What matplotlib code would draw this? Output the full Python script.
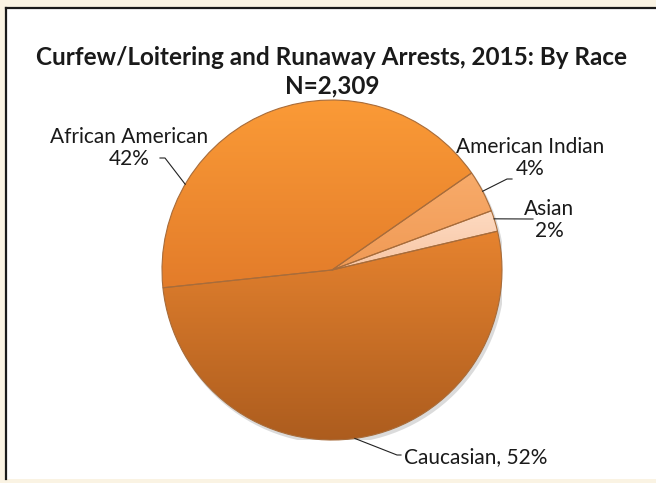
import numpy as np
import matplotlib
matplotlib.use("Agg")
import matplotlib.pyplot as plt
from matplotlib.colors import LinearSegmentedColormap
from matplotlib.patches import Rectangle, Circle
from matplotlib.lines import Line2D

# arrests by race
races = ['African American', 'American Indian', 'Asian', 'Caucasian']
shares = [42, 4, 2, 52]
label_texts = ['African American\n42%', 'American Indian\n4%', 'Asian\n2%', 'Caucasian, 52%']

# top / bottom colour of each slice's gradient
grad_top = ['#fb9b37', '#f8ab6a', '#fddac1', '#e6832f']
grad_bottom = ['#e37c2a', '#f09a55', '#f8c6a4', '#ac5c1e']

W, H = 656, 483
plt.rcParams['font.family'] = ['Lato', 'DejaVu Sans']
fig = plt.figure(figsize=(W / 100, H / 100), dpi=100, facecolor='#faf3e3')

# white chart panel with a dark frame on the left and top
fig.patches.append(Rectangle((6 / W, 4 / H), 1, 1 - 12 / H, transform=fig.transFigure,
                             facecolor='white', edgecolor='none', zorder=-5))
fig.lines.append(Line2D([6 / W, 6 / W], [4 / H, 1 - 8 / H], transform=fig.transFigure,
                        color='#1a1a1a', lw=1.6, zorder=-4))
fig.lines.append(Line2D([6 / W, 1], [1 - 8 / H, 1 - 8 / H], transform=fig.transFigure,
                        color='#1a1a1a', lw=1.6, zorder=-4))

fig.text(332 / W, 1 - 72 / H, 'Curfew/Loitering and Runaway Arrests, 2015: By Race\nN=2,309',
         ha='center', va='center', fontsize=17.5, fontweight='bold', color='#1a1a1a',
         linespacing=1.3)

cx, cy, R = 332, 270, 170
ax = fig.add_axes([(cx - R) / W, (H - cy - R) / H, 2 * R / W, 2 * R / H])
ax.set_axis_off()

# soft shadow
ax.add_patch(Circle((0.012, -0.018), 1.005, facecolor='#999999', alpha=0.35,
                    edgecolor='none', zorder=0))

wedges, _ = ax.pie(shares, startangle=186, counterclock=False, radius=1,
                   wedgeprops=dict(linewidth=0.8, edgecolor='#a86c3a'))

for w, top, bot in zip(wedges, grad_top, grad_bottom):
    v = w.get_path().vertices
    cmap = LinearSegmentedColormap.from_list('g', [top, bot])
    grad = np.linspace(0, 1, 256).reshape(-1, 1)
    im = ax.imshow(grad, cmap=cmap, aspect='auto', interpolation='bilinear',
                   extent=(v[:, 0].min(), v[:, 0].max(), v[:, 1].min(), v[:, 1].max()),
                   zorder=1)
    im.set_clip_path(w)
    w.set_facecolor('none')
    w.set_zorder(2)

ax.set_xlim(-1, 1)
ax.set_ylim(-1, 1)
ax.set_aspect('equal')


def to_data(px, py):
    return ((px - cx) / R, (cy - py) / R)


def edge_point(w, frac):
    a = np.deg2rad(w.theta1 + frac * (w.theta2 - w.theta1))
    return np.cos(a), np.sin(a)


# label placement: text centre, leader knees (pixels), fraction along wedge
label_pos = [(129, 148), (530, 158), (549, 220), (476, 457)]
knees = [[(187, 180), (165, 158), (160, 158)],
         [(485, 195), (507, 179), (512, 179)],
         [(497, 225), (530, 219), (533, 219)],
         [(360, 442), (397, 455), (401, 455)]]
fracs = [0.76, 0.5, 0.6, 0.49]

for w, txt, pos, knee, fr in zip(wedges, label_texts, label_pos, knees, fracs):
    ex, ey = edge_point(w, fr)
    pts = [to_data(*p) for p in knee[1:]]
    xs = [ex] + [p[0] for p in pts]
    ys = [ey] + [p[1] for p in pts]
    ax.plot(xs, ys, color='#222222', lw=0.8, zorder=4, clip_on=False)
    tx, ty = to_data(*pos)
    ax.text(tx, ty, txt, ha='center', va='center', fontsize=15, color='#1a1a1a',
            linespacing=1.15, zorder=5, clip_on=False)

fig.savefig('out.png', dpi=100, facecolor=fig.get_facecolor())
